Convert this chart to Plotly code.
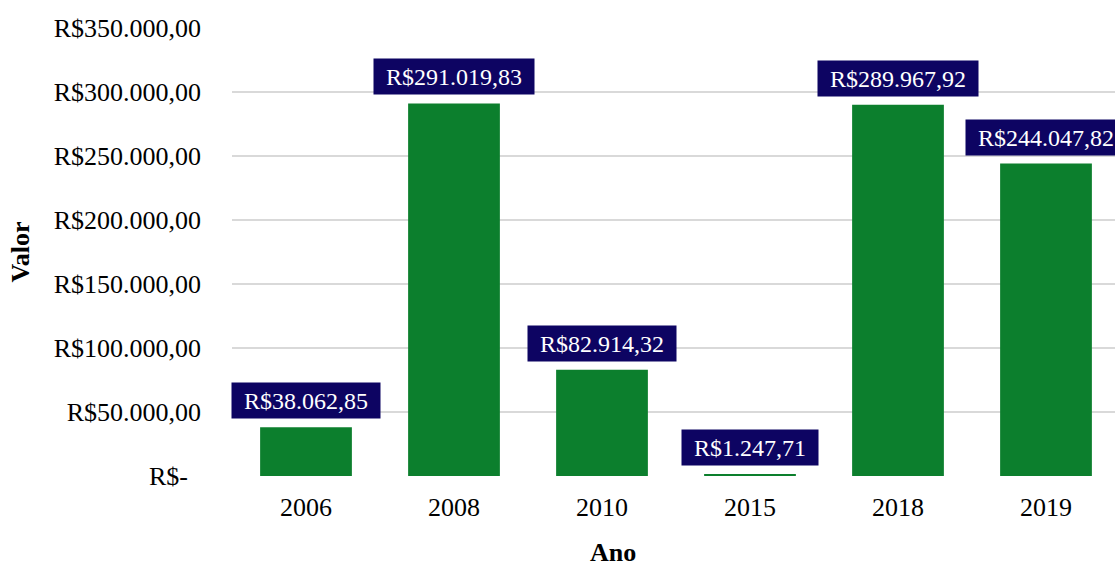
import plotly.graph_objects as go

anos = ["2006", "2008", "2010", "2015", "2018", "2019"]
valores = [38062.85, 291019.83, 82914.32, 1247.71, 289967.92, 244047.82]
tick_vals = [0, 50000, 100000, 150000, 200000, 250000, 300000, 350000]
tick_text = ["R$-\u00a0\u00a0", "R$50.000,00", "R$100.000,00", "R$150.000,00", "R$200.000,00",
             "R$250.000,00", "R$300.000,00", "R$350.000,00"]

FONT = "Liberation Serif, Times New Roman, serif"
BAR = "#0c7f2d"
LABEL_BG = "#0d0462"


def brl(v):
    s = f"{v:,.2f}"
    s = s.replace(",", "X").replace(".", ",").replace("X", ".")
    return "R$" + s


# approximate Times-like advance widths (em) for label box sizing
def text_width(s, size):
    w = {"R": 0.667, "$": 0.5, ".": 0.25, ",": 0.25}
    return sum(w.get(c, 0.5) for c in s) * size


fig = go.Figure()
fig.add_trace(go.Bar(
    x=list(range(len(anos))), y=valores, width=0.62,
    marker=dict(color=BAR, line=dict(width=0)),
    hoverinfo="skip",
))

for i, v in enumerate(valores):
    t = brl(v)
    fig.add_annotation(
        x=i, y=v, xref="x", yref="y", text=t, showarrow=False,
        yanchor="bottom", yshift=8,
        width=text_width(t, 24) + 20, height=31,
        bgcolor=LABEL_BG, borderpad=2,
        font=dict(family=FONT, size=24, color="white"),
    )

W, H = 1115, 566
L, T, B = 232, 28, 90
plot_w = W - L
fig.add_annotation(
    x=(613 - L) / plot_w, y=-(552 - (H - B)) / (H - B - T), xref="paper", yref="paper",
    text="<b>Ano</b>", showarrow=False, yanchor="middle", xanchor="center",
    font=dict(family=FONT, size=26, color="black"),
)

fig.update_layout(
    width=W, height=H,
    margin=dict(l=L, r=0, t=T, b=B, pad=0),
    paper_bgcolor="white", plot_bgcolor="white",
    showlegend=False,
    font=dict(family=FONT, size=26, color="black"),
    xaxis=dict(
        range=[-0.5, -0.5 + plot_w / 148.0],
        tickmode="array", tickvals=list(range(len(anos))), ticktext=anos,
        showgrid=False, zeroline=False, showline=False, ticks="",
        ticklabelstandoff=13,
        tickfont=dict(family=FONT, size=26, color="black"),
    ),
    yaxis=dict(
        range=[0, 350000],
        tickmode="array", tickvals=tick_vals, ticktext=tick_text,
        showgrid=True, gridcolor="#d9d9d9", gridwidth=2,
        zeroline=False, showline=False, ticks="",
        ticklabelstandoff=30,
        tickfont=dict(family=FONT, size=26, color="black"),
        title=dict(text="<b>Valor</b>", standoff=16,
                   font=dict(family=FONT, size=26, color="black")),
    ),
)

fig.write_html("out.html")
